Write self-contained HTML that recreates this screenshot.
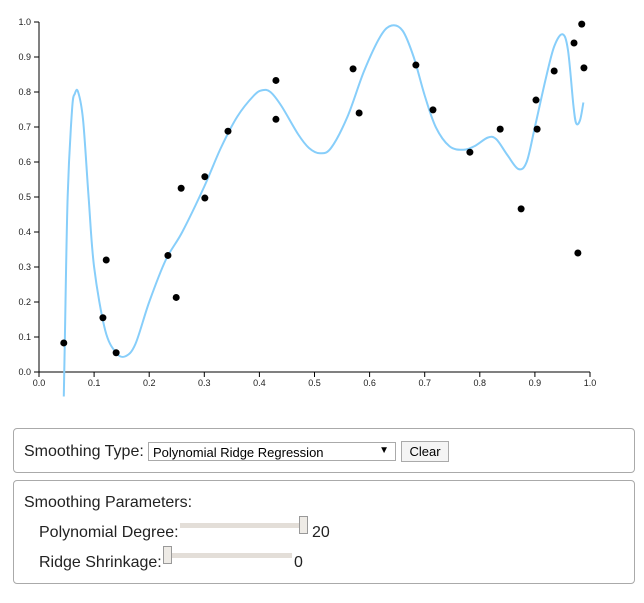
<!DOCTYPE html>
<html><head><meta charset="utf-8"><style>
body{margin:0;width:644px;height:603px;background:#fff;font-family:"Liberation Sans",Arial,sans-serif;position:relative;overflow:hidden}
.box{position:absolute;border:1px solid #aaa;border-radius:4px;box-sizing:border-box}
.t{position:absolute;font-size:16px;color:#222;white-space:nowrap}
.track{position:absolute;height:5px;background:#e3ded8}
.thumb{position:absolute;width:9px;height:18px;background:#eeebe6;border:1px solid #999;box-sizing:border-box}
</style></head><body>
<svg width="644" height="420" style="position:absolute;left:0;top:0">
<g id="axes"></g><path id="curve" fill="none" stroke="#87cefa" stroke-width="2"/><g id="pts"></g>
</svg>
<div class="box" style="left:13px;top:428px;width:622px;height:45px"></div>
<div class="t" style="left:24px;top:443px">Smoothing Type:</div>
<div style="position:absolute;left:148px;top:442px;width:248px;height:19px;border:1px solid #aaa;box-sizing:border-box;font-size:13px;padding:2px 0 0 4px">Polynomial Ridge Regression<span style="position:absolute;right:6px;top:2px;font-size:10px">▼</span></div>
<div style="position:absolute;left:401px;top:441px;width:48px;height:21px;border:1px solid #aaa;background:#f4f4f4;box-sizing:border-box;font-size:13px;text-align:center;line-height:19px">Clear</div>
<div class="box" style="left:13px;top:480px;width:622px;height:104px"></div>
<div class="t" style="left:24px;top:494px">Smoothing Parameters:</div>
<div class="t" style="left:39px;top:524px">Polynomial Degree:</div>
<div class="track" style="left:180px;top:523px;width:122px"></div>
<div class="thumb" style="left:299px;top:516px"></div>
<div class="t" style="left:312px;top:524px">20</div>
<div class="t" style="left:39px;top:554px">Ridge Shrinkage:</div>
<div class="track" style="left:170px;top:553px;width:122px"></div>
<div class="thumb" style="left:163px;top:546px"></div>
<div class="t" style="left:294px;top:554px">0</div>
<script>
const pointX=[0.045,0.116,0.122,0.14,0.234,0.249,0.258,0.301,0.301,0.343,0.430,0.430,0.570,0.581,0.684,0.715,0.782,0.837,0.875,0.902,0.904,0.935,0.971,0.978,0.985,0.989];
const pointY=[0.083,0.155,0.32,0.055,0.333,0.213,0.525,0.558,0.497,0.688,0.833,0.722,0.866,0.74,0.877,0.749,0.628,0.694,0.466,0.777,0.694,0.86,0.94,0.34,0.994,0.869];
const curveX=[0.045,0.047,0.052,0.06,0.065,0.071,0.08,0.09,0.10,0.12,0.14,0.157,0.175,0.2,0.23,0.26,0.30,0.33,0.36,0.39,0.405,0.42,0.44,0.47,0.49,0.51,0.53,0.56,0.59,0.62,0.64,0.66,0.68,0.70,0.72,0.745,0.77,0.79,0.815,0.83,0.85,0.87,0.885,0.90,0.92,0.935,0.95,0.96,0.97,0.975,0.982,0.988];
const curveY=[-0.07,0.1,0.5,0.75,0.795,0.80,0.72,0.5,0.3,0.12,0.055,0.045,0.08,0.2,0.32,0.40,0.53,0.64,0.73,0.79,0.805,0.80,0.76,0.68,0.64,0.625,0.64,0.73,0.86,0.96,0.99,0.975,0.90,0.79,0.70,0.645,0.635,0.645,0.67,0.665,0.62,0.58,0.60,0.70,0.84,0.93,0.965,0.92,0.76,0.71,0.72,0.77];
const ticks=[0,0.1,0.2,0.3,0.4,0.5,0.6,0.7,0.8,0.9,1.0];
const X0=39,X1=590,Y0=372,Y1=22;
const sx=v=>X0+v*(X1-X0), sy=v=>Y0-v*(Y0-Y1);
const NS="http://www.w3.org/2000/svg";
const ax=document.getElementById('axes');
function mk(t,a,p){const e=document.createElementNS(NS,t);for(const k in a)e.setAttribute(k,a[k]);p.appendChild(e);return e;}
const xl=mk('line',{x1:X0,x2:X1,y1:Y0,y2:Y0,stroke:'#000'},ax);


const yl=mk('line',{x1:X0,x2:X0,y1:Y0,y2:Y1,stroke:'#000'},ax);


ticks.forEach(v=>{
 mk('line',{x1:sx(v),x2:sx(v),y1:Y0,y2:Y0+5,stroke:'#000'},ax);
 const tx=mk('text',{x:sx(v),y:Y0+14,'font-size':9,'text-anchor':'middle',fill:'#222'},ax);tx.textContent=v.toFixed(1);
 
 
 mk('line',{x1:X0-5,x2:X0,y1:sy(v),y2:sy(v),stroke:'#000'},ax);
 const ty=mk('text',{x:X0-8,y:sy(v)+3,'font-size':9,'text-anchor':'end',fill:'#222'},ax);ty.textContent=v.toFixed(1);
 
 
});
const P=curveX.map((x,i)=>[sx(x),sy(curveY[i])]);
let d='M'+P[0][0]+','+P[0][1];
for(let i=0;i<P.length-1;i++){const p0=P[Math.max(i-1,0)],p1=P[i],p2=P[i+1],p3=P[Math.min(i+2,P.length-1)];
 d+=` C${p1[0]+(p2[0]-p0[0])/6},${p1[1]+(p2[1]-p0[1])/6} ${p2[0]-(p3[0]-p1[0])/6},${p2[1]-(p3[1]-p1[1])/6} ${p2[0]},${p2[1]}`;}
document.getElementById('curve').setAttribute('d',d);
const pg=document.getElementById('pts');
pointX.forEach((x,i)=>{const c=mk('circle',{cx:sx(x),cy:sy(pointY[i]),r:3.5,fill:'#000'},pg);
 
 });
</script>
</body></html>
